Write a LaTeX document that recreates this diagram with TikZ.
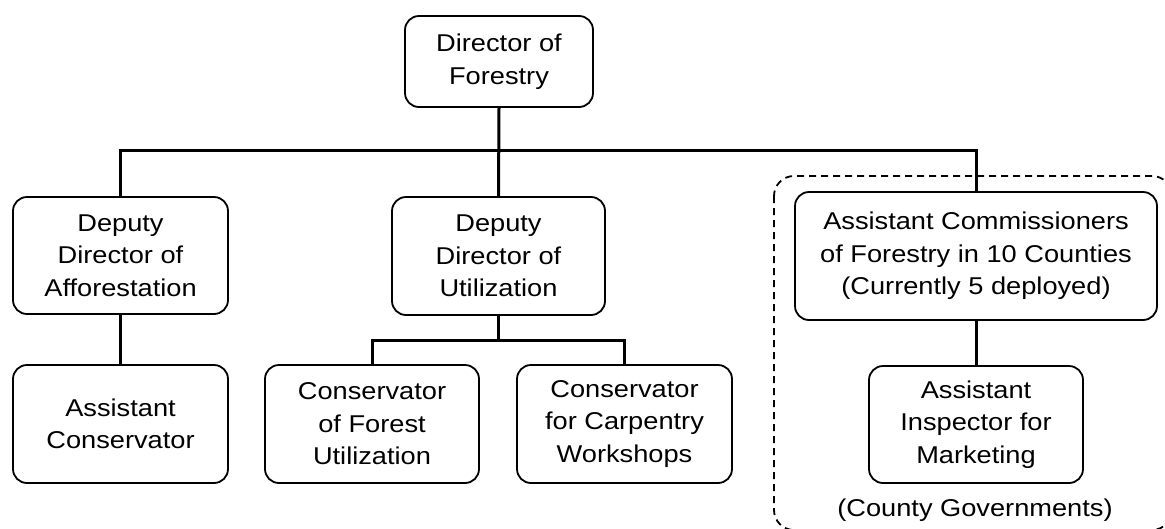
\documentclass[tikz,border=0pt]{standalone}
\usepackage{fontspec}
\setmainfont{Liberation Sans}[FakeStretch=1.12]
\begin{document}
\begin{tikzpicture}[x=1pt,y=-1pt,
  box/.style={draw, line width=1.8pt, rounded corners=14pt, align=center,
    inner sep=0pt, font=\fontsize{24.3}{32.5}\selectfont},
  conn/.style={line width=3pt},
  group/.style={draw, line width=1.8pt, dash pattern=on 7pt off 5pt, rounded corners=20pt}]
\useasboundingbox (0,0) rectangle (1165,528);

% county group outline (runs past the right and bottom edges)
\draw[group] (774,176) rectangle (1172,530);

\node[box, minimum width=188pt, minimum height=91pt] (dir) at (499,61.5) {Director of\\Forestry};

\node[box, minimum width=215pt, minimum height=117pt] (daff) at (120.5,255.5) {Deputy\\Director of\\Afforestation};
\node[box, minimum width=213pt, minimum height=118pt] (dutil) at (498.5,256) {Deputy\\Director of\\Utilization};
\node[box, minimum width=362pt, minimum height=128pt] (acom) at (976,256) {Assistant Commissioners\\of Forestry in 10 Counties\\(Currently 5 deployed)};

\node[box, minimum width=215pt, minimum height=118pt] (acons) at (120.5,424) {Assistant\\Conservator};
\node[box, minimum width=214pt, minimum height=118pt] (cfor) at (372,424) {Conservator\\of Forest\\Utilization};
\node[box, minimum width=215pt, minimum height=118pt] (ccarp) at (624.5,424) {Conservator\\for Carpentry\\Workshops};
\node[box, minimum width=214pt, minimum height=117pt] (insp) at (976,424.5) {Assistant\\Inspector for\\Marketing};

\node[font=\fontsize{24.3}{32.5}\selectfont] (cg) at (975,510) {(County Governments)};

% connectors
\draw[conn] (dir.south) -- (dutil.north);
\coordinate (bus) at (499,150);
\draw[conn] (daff.north) -- (daff.north |- bus) -| (acom.north);
\draw[conn] (daff.south) -- (acons.north);
\draw[conn] (dutil.south) -- ++(0,25) coordinate (sub);
\draw[conn] (cfor.north) |- (sub) -| (ccarp.north);
\draw[conn] (acom.south) -- (insp.north);
\end{tikzpicture}
\end{document}
